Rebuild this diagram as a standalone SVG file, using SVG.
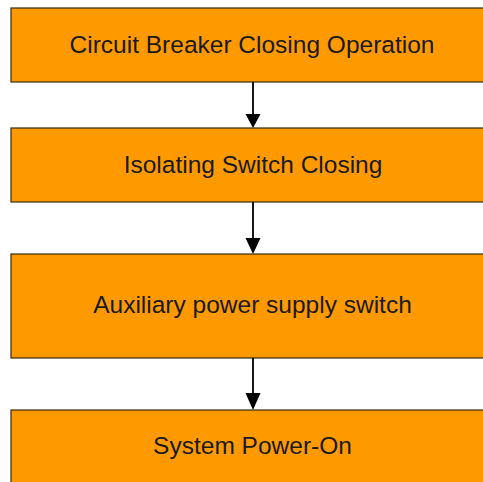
<svg xmlns="http://www.w3.org/2000/svg" width="483" height="482" viewBox="0 0 483 482">
<style>
.box{fill:#FF9900;stroke:#3a2a10;stroke-width:1.2}
.lbl{font-family:"Liberation Sans",Arial,sans-serif;font-size:24.5px;fill:#1a1a1a;text-anchor:middle}
.conn{stroke:#000;stroke-width:1.8;fill:none}
</style>
<rect width="483" height="482" fill="#fff"/>
<g id="n1"><rect class="box" x="11" y="8" width="480" height="74"/><text class="lbl" x="252" y="53">Circuit Breaker Closing Operation</text></g>
<g id="n2"><rect class="box" x="11" y="128" width="480" height="74"/><text class="lbl" x="253" y="173">Isolating Switch Closing</text></g>
<g id="n3"><rect class="box" x="11" y="254" width="480" height="104"/><text class="lbl" x="252.5" y="313">Auxiliary power supply switch</text></g>
<g id="n4"><rect class="box" x="11" y="410" width="480" height="80"/><text class="lbl" x="252.5" y="454">System Power-On</text></g>
<g id="connectors">
<line class="conn" x1="253" y1="82" x2="253" y2="116"/>
<path d="M245.5,114 L260.5,114 L253,128 z" fill="#000"/>
<line class="conn" x1="253" y1="202" x2="253" y2="240"/>
<path d="M245.5,238 L260.5,238 L253,254 z" fill="#000"/>
<line class="conn" x1="253" y1="358" x2="253" y2="395"/>
<path d="M245.5,393 L260.5,393 L253,410 z" fill="#000"/>
</g>
</svg>
